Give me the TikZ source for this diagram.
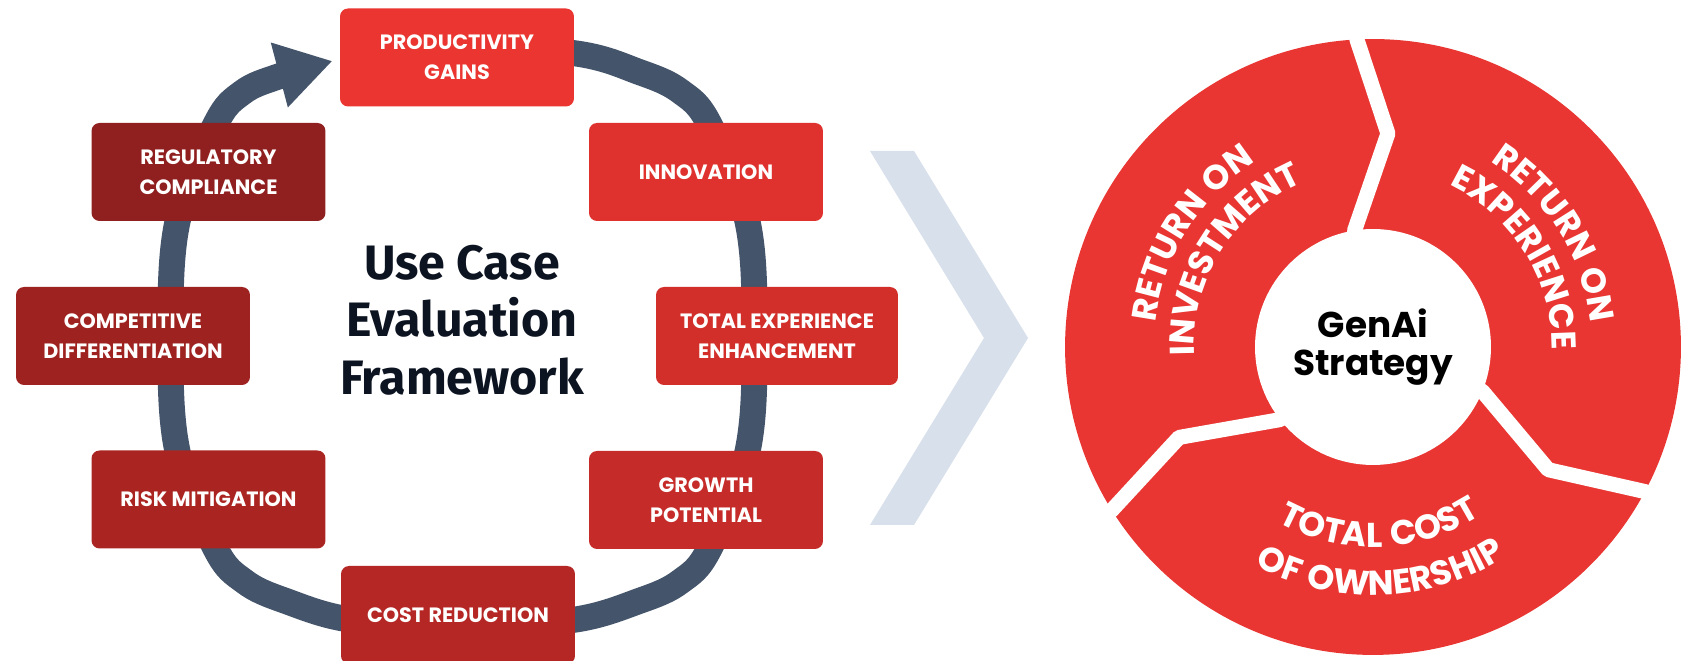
\documentclass[tikz,border=0pt]{standalone}
\usepackage{fontspec}
\setmainfont{Poppins}
\newfontfamily\titlefont{Fira Sans}
\usetikzlibrary{arrows.meta,decorations.text}

\definecolor{slate}{HTML}{44546A}
\definecolor{ringred}{HTML}{E93632}
\definecolor{chev}{HTML}{D8E0EB}
\definecolor{ink}{HTML}{0D1421}
\definecolor{c1}{HTML}{EA3530}
\definecolor{c2}{HTML}{DF322E}
\definecolor{c3}{HTML}{D22F2B}
\definecolor{c4}{HTML}{C52B28}
\definecolor{c5}{HTML}{B52725}
\definecolor{c6}{HTML}{AA2522}
\definecolor{c7}{HTML}{9E2220}
\definecolor{c8}{HTML}{8F201F}

\begin{document}
\begin{tikzpicture}[x=0.02cm,y=0.02cm,
    factor/.style={fill=#1, text=white, rounded corners=0.16cm,
      minimum width=4.68cm, minimum height=1.96cm, inner sep=0pt,
      align=center, font=\bfseries\fontsize{11.8}{17}\selectfont},
    ringlabel/.style={decorate, decoration={text along path,
      text align=center, text color=white,
      text={|\bfseries\fontsize{19.6}{24}\selectfont\addfontfeature{LetterSpace=6}|#1}}},
    gapline/.style={white, line width=0.3cm, line join=round}]
  \path[use as bounding box, fill=white] (0,0) rectangle (1691,661);

  % loop
  \begin{scope}[shift={(462.5,324.5)}]
    \draw[slate, line width=0.52cm, -{Triangle[length=1.1cm,width=1.26cm]}]
      plot[smooth, tension=0.6] coordinates {
        (-20,289) (110,283.5) (178,264) (218,245) (247,212) (285,115)
        (292,0) (285,-115) (247,-212) (218,-245) (178,-264) (110,-283.5)
        (0,-289) (-110,-283.5) (-178,-264) (-218,-245) (-247,-212)
        (-285,-115) (-292,0) (-285,115) (-247,212) (-220,244) (-184,260)
        (-130,275.5)};
  \end{scope}

  \path
    (457,603.5) node[factor=c1] (prod) {PRODUCTIVITY\\GAINS}
    (706,489) node[factor=c2] (innov) {INNOVATION}
    (777,325) node[factor=c3, minimum width=4.84cm] (texp) {TOTAL EXPERIENCE\\ENHANCEMENT}
    (706,161) node[factor=c4] (growth) {GROWTH\\POTENTIAL}
    (458,46) node[factor=c5] (cost) {COST REDUCTION}
    (208.5,161.5) node[factor=c6] (risk) {RISK MITIGATION}
    (133,325) node[factor=c7] (comp) {COMPETITIVE\\DIFFERENTIATION}
    (208.5,489) node[factor=c8] (reg) {REGULATORY\\COMPLIANCE}
    (462,341) node[text=ink, align=center,
      font=\titlefont\bfseries\fontsize{27.5}{32.7}\selectfont] (title)
      {Use Case\\Evaluation\\Framework};

  \fill[chev] (870,510) -- (914,510) -- (1028,323) -- (914,136)
    -- (870,136) -- (984,323) -- cycle;

  % ring
  \coordinate (hub) at (1373,314);
  \begin{scope}[shift={(hub)}]
    \fill[ringred] (0,0) circle[radius=6.16cm];
    \fill[white] (0,0) circle[radius=2.36cm];
    \foreach \a in {94,213,333}
      \draw[gapline] (\a+6:1.2cm) -- (\a+5:2.36cm) -- (\a-8:4.28cm)
        -- (\a-1:6.16cm) -- (\a-1:6.8cm);
    \node[text=black, align=center,
      font=\bfseries\fontsize{20.4}{21.5}\selectfont] (core) at (0,0)
      {GenAi\\Strategy};
    \path[ringlabel={RETURN ON}] (200:4.38cm) arc[start angle=200, end angle=96, radius=4.38cm];
    \path[ringlabel={INVESTMENT}] (200:3.58cm) arc[start angle=200, end angle=96, radius=3.58cm];
    \path[ringlabel={RETURN ON}] (84:4.38cm) arc[start angle=84, end angle=-20, radius=4.38cm];
    \path[ringlabel={EXPERIENCE}] (84:3.58cm) arc[start angle=84, end angle=-20, radius=3.58cm];
    \path[ringlabel={TOTAL COST}] (220:4.0cm) arc[start angle=220, end angle=324, radius=4.0cm];
    \path[ringlabel={OF OWNERSHIP}] (220:4.97cm) arc[start angle=220, end angle=324, radius=4.97cm];
  \end{scope}
\end{tikzpicture}
\end{document}
